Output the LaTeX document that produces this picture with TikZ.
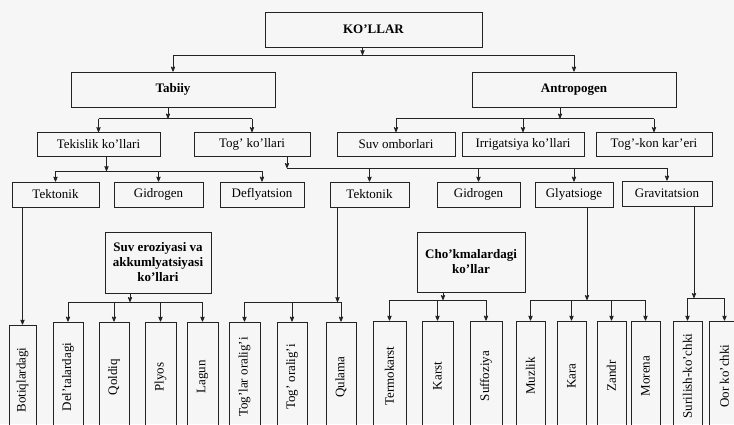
\documentclass[tikz,border=0pt]{standalone}
\usepackage{fontspec}
\setmainfont{Liberation Serif}
\usetikzlibrary{shapes,arrows}

\definecolor{paper}{RGB}{246,246,246}
\definecolor{ink}{RGB}{35,35,35}

\tikzset{
  box/.style={draw=ink, line width=0.8pt, inner sep=1pt, align=center,
    font=\fontsize{13}{15}\selectfont},
  vbox/.style={box, minimum width=30pt, minimum height=110pt},
  link/.style={draw=ink, line width=0.8pt},
  arr/.style={link, ->, >=stealth'},
}

\begin{document}
\begin{tikzpicture}[x=1pt, y=-1pt]

\useasboundingbox (0,0) rectangle (734,424);
\fill [paper] (0,0) rectangle (734,424);
\clip (0,0) rectangle (734,424);

% top levels
\node[box, minimum width=217pt, minimum height=35pt] (kollar) at (373.5,29.5) {\textbf{KO'LLAR}};
\node[box, minimum width=204pt, minimum height=35pt] (tabiiy) at (173,89.5) {\textbf{Tabiiy}};
\node[box, minimum width=204pt, minimum height=35pt] (antro) at (574,89.5) {\textbf{Antropogen}};

% second level
\node[box, minimum width=123pt, minimum height=24pt] (tekis) at (98.5,144.5) {Tekislik ko'llari};
\node[box, minimum width=116pt, minimum height=24pt] (togkol) at (252,144.5) {Tog' ko'llari};
\node[box, minimum width=118pt, minimum height=24pt] (suvomb) at (396,144.5) {Suv omborlari};
\node[box, minimum width=122pt, minimum height=24pt] (irrig) at (523,144.5) {Irrigatsiya ko'llari};
\node[box, minimum width=116pt, minimum height=24pt] (togkon) at (654,144.5) {Tog'-kon kar'eri};

% third level
\node[box, minimum width=87pt, minimum height=25pt] (tekt1) at (55.5,194.5) {Tektonik};
\node[box, minimum width=89pt, minimum height=25pt] (gidr1) at (158.5,194.5) {Gidrogen};
\node[box, minimum width=84pt, minimum height=25pt] (defl) at (262,194.5) {Deflyatsion};
\node[box, minimum width=79pt, minimum height=25pt] (tekt2) at (369.5,194.5) {Tektonik};
\node[box, minimum width=83pt, minimum height=25pt] (gidr2) at (478.5,194.5) {Gidrogen};
\node[box, minimum width=78pt, minimum height=25pt] (glyat) at (574,194.5) {Glyatsioge};
\node[box, minimum width=90pt, minimum height=25pt] (grav) at (667,193.5) {Gravitatsion};

% middle groups
\node[box, minimum width=106pt, minimum height=61pt] (suvero) at (158,262.5)
  {\textbf{Suv eroziyasi va}\\\textbf{akkumlyatsiyasi}\\\textbf{ko'llari}};
\node[box, minimum width=108pt, minimum height=60pt] (chokma) at (471,262)
  {\textbf{Cho'kmalardagi}\\\textbf{ko'llar}};

% bottom row
\node[vbox, minimum width=27pt] (botiq) at (22.5,380) {\rotatebox{90}{Botiqlardagi}};
\node[vbox] (delta) at (68,377) {\rotatebox{90}{Del'talardagi}};
\node[vbox] (qoldiq) at (114,377) {\rotatebox{90}{Qoldiq}};
\node[vbox, minimum width=31pt] (plyos) at (160.5,377) {\rotatebox{90}{Plyos}};
\node[vbox, minimum width=31pt] (lagun) at (202.5,377) {\rotatebox{90}{Lagun}};
\node[vbox, minimum width=31pt] (toglar) at (244.5,377) {\rotatebox{90}{Tog'lar oralig'i}};
\node[vbox] (togor) at (292,377) {\rotatebox{90}{Tog' oralig'i}};
\node[vbox] (qulama) at (341,377) {\rotatebox{90}{Qulama}};
\node[vbox, minimum width=33pt] (termo) at (389.5,376) {\rotatebox{90}{Termokarst}};
\node[vbox, minimum width=31pt] (karst) at (437.5,376) {\rotatebox{90}{Karst}};
\node[vbox, minimum width=32pt] (suffo) at (486,376) {\rotatebox{90}{Suffoziya}};
\node[vbox, minimum width=29pt] (muzlik) at (530.5,376) {\rotatebox{90}{Muzlik}};
\node[vbox, minimum width=29pt] (kara) at (571.5,376) {\rotatebox{90}{Kara}};
\node[vbox, minimum width=29pt] (zandr) at (611.5,376) {\rotatebox{90}{Zandr}};
\node[vbox, minimum width=29pt] (morena) at (645.5,376) {\rotatebox{90}{Morena}};
\node[vbox, minimum width=29pt] (suril) at (687.5,376) {\rotatebox{90}{Surilish-ko'chki}};
\node[vbox, minimum width=31pt] (oor) at (724.5,376) {\rotatebox{90}{Oor ko'chki}};

% bus heights
\coordinate (b0) at (0,55);
\coordinate (b1) at (0,118.5);
\coordinate (b2) at (0,171);
\coordinate (b3) at (0,168);
\coordinate (b4) at (0,302);
\coordinate (b5) at (0,300);
\coordinate (b6) at (0,298);

% KO'LLAR
\draw[arr] ([xshift=-11pt]kollar.south) -- ([xshift=-11pt]kollar.south |- b0);
\draw[link] (tabiiy.north |- b0) -- (antro.north |- b0);
\foreach \c in {tabiiy,antro} \draw[arr] (\c.north |- b0) -- (\c.north);

% Tabiiy and Antropogen
\draw[arr] ([xshift=-5pt]tabiiy.south) -- ([xshift=-5pt]tabiiy.south |- b1);
\draw[link] (tekis.north |- b1) -- (togkol.north |- b1);
\foreach \c in {tekis,togkol} \draw[arr] (\c.north |- b1) -- (\c.north);

\draw[arr] ([xshift=-14pt]antro.south) -- ([xshift=-14pt]antro.south |- b1);
\draw[link] (suvomb.north |- b1) -- (togkon.north |- b1);
\foreach \c in {suvomb,irrig,togkon} \draw[arr] (\c.north |- b1) -- (\c.north);

% Tekislik and Tog' ko'llari
\draw[arr] ([xshift=8pt]tekis.south) -- ([xshift=8pt]tekis.south |- b2);
\draw[link] (tekt1.north |- b2) -- (defl.north |- b2);
\foreach \c in {tekt1,gidr1,defl} \draw[arr] (\c.north |- b2) -- (\c.north);

\draw[arr] ([xshift=35pt]togkol.south) -- ([xshift=35pt]togkol.south |- b3);
\draw[link] ([xshift=35pt]togkol.south |- b3) -- (grav.north |- b3);
\foreach \c in {tekt2,gidr2,glyat,grav} \draw[arr] (\c.north |- b3) -- (\c.north);

% down to the bottom row
\draw[arr] (tekt1.south -| botiq.north) -- (botiq.north);

\draw[arr] ([xshift=-28pt]suvero.south) -- ([xshift=-28pt]suvero.south |- b4);
\draw[link] (delta.north |- b4) -- (lagun.north |- b4);
\foreach \c in {delta,qoldiq,plyos,lagun} \draw[arr] (\c.north |- b4) -- (\c.north);

\draw[arr] ([xshift=-32pt]tekt2.south) -- ([xshift=-32pt]tekt2.south |- b4);
\draw[link] (toglar.north |- b4) -- (qulama.north |- b4);
\foreach \c in {toglar,togor,qulama} \draw[arr] (\c.north |- b4) -- (\c.north);

\draw[arr] ([xshift=-28pt]chokma.south) -- ([xshift=-28pt]chokma.south |- b5);
\draw[link] (termo.north |- b5) -- (suffo.north |- b5);
\foreach \c in {termo,karst,suffo} \draw[arr] (\c.north |- b5) -- (\c.north);

\draw[arr] ([xshift=13pt]glyat.south) -- ([xshift=13pt]glyat.south |- b5);
\draw[link] (muzlik.north |- b5) -- (morena.north |- b5);
\foreach \c in {muzlik,kara,zandr,morena} \draw[arr] (\c.north |- b5) -- (\c.north);

\draw[arr] ([xshift=27pt]grav.south) -- ([xshift=27pt]grav.south |- b6);
\draw[link] (suril.north |- b6) -- (oor.north |- b6);
\foreach \c in {suril,oor} \draw[arr] (\c.north |- b6) -- (\c.north);

\end{tikzpicture}
\end{document}
